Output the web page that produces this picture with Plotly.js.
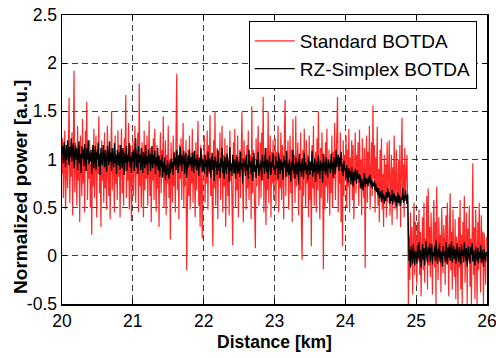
<!DOCTYPE html>
<html>
<head>
<meta charset="utf-8">
<script src="https://cdn.plot.ly/plotly-3.0.1.min.js"></script>
<style>
html,body{margin:0;padding:0;background:#fff;}
#chart{width:496px;height:358px;}
</style>
</head>
<body>
<div id="chart"></div>
<script>
// Distance sampling (km)
var distStart = 20;
var distStep = 0.01;

// Standard BOTDA (normalized power, a.u.), 20.00 .. 26.00 km
var standardBOTDA = [
0.85,1.22,0.60,1.05,1.30,0.48,0.95,1.15,0.70,1.38,1.64,0.55,1.10,0.82,1.28,0.42,1.02,1.92,0.66,1.18,
0.90,0.52,1.35,0.78,1.08,0.35,1.25,0.98,0.62,1.42,0.75,1.12,0.45,1.30,0.88,1.60,0.58,1.05,0.80,1.20,
0.50,0.95,0.22,1.15,0.72,1.32,0.60,1.00,1.25,0.40,1.10,0.85,1.45,0.65,0.98,0.30,1.20,0.78,1.05,0.55,
1.28,0.70,1.08,0.48,1.35,0.92,0.62,1.18,0.38,1.02,1.50,0.68,1.12,0.85,0.45,1.25,0.75,1.00,0.58,1.30,
0.82,1.15,0.40,0.98,1.32,0.65,1.08,0.52,1.22,0.88,1.67,0.60,1.05,0.78,1.38,0.48,0.95,1.15,0.36,1.02,
1.20,0.62,0.98,1.35,0.55,1.10,0.85,1.28,0.45,1.79,0.72,1.05,0.50,1.18,0.92,0.40,1.30,0.68,1.08,0.80,
1.25,0.52,0.95,1.40,0.62,1.12,0.35,1.02,0.78,1.22,0.58,1.32,0.88,0.46,1.15,0.70,1.05,0.30,0.98,1.28,
0.65,1.10,0.82,1.45,0.50,0.95,1.20,0.42,1.05,0.75,1.35,0.60,1.00,0.17,1.18,0.85,0.55,1.25,0.72,1.08,
0.45,1.30,1.89,0.68,1.02,0.38,1.15,0.80,1.22,0.58,0.95,1.38,0.50,1.05,0.72,1.20,-0.15,0.88,1.10,0.62,
1.25,0.48,0.98,0.75,1.32,0.55,1.08,0.85,0.40,1.18,0.68,1.02,1.40,0.52,0.92,0.30,1.15,0.72,0.18,1.05,
0.92,1.25,0.55,1.05,0.75,1.30,0.48,1.15,0.85,1.46,0.62,1.02,0.40,0.10,1.20,0.70,1.50,0.52,0.95,1.12,
0.38,1.08,0.80,1.28,0.58,0.98,1.35,0.45,1.05,0.72,1.22,0.30,0.90,1.15,0.62,1.02,0.42,1.30,0.78,0.95,
0.55,0.11,1.18,0.85,1.32,0.50,1.05,0.68,1.25,0.40,0.98,1.10,0.60,1.38,1.49,0.75,0.35,1.20,0.88,1.02,
0.48,1.15,0.70,1.30,0.58,0.92,1.05,0.38,1.55,0.65,1.10,0.82,0.45,0.08,1.22,0.72,1.00,1.35,0.52,0.95,
1.18,0.60,1.28,0.78,1.65,0.45,1.05,0.85,0.32,1.12,0.68,1.50,0.55,0.98,1.25,0.40,1.08,0.75,1.20,0.58,
0.95,1.22,0.52,1.08,0.78,1.35,0.45,1.02,0.70,1.28,0.58,1.15,0.88,0.38,1.30,1.62,0.62,1.05,0.82,1.20,
0.48,0.98,1.25,0.65,1.10,0.35,1.42,0.80,1.05,0.55,1.45,0.72,0.95,1.18,0.42,1.02,0.68,1.28,0.30,-0.04,
1.10,0.62,1.32,0.85,0.50,1.20,0.75,1.05,0.40,1.25,0.58,0.92,0.10,1.15,0.70,1.35,0.52,0.98,1.08,0.45,
1.22,0.68,1.50,0.80,0.38,1.12,0.60,1.28,0.85,-0.14,1.05,0.48,1.18,0.72,1.32,0.55,0.95,1.10,0.42,1.00,
0.65,1.25,0.50,1.08,0.80,1.38,0.58,0.92,1.15,1.65,0.45,1.02,0.75,1.28,0.35,0.98,0.10,1.20,0.62,1.05,
0.88,1.25,0.50,1.10,0.72,1.32,0.45,1.02,0.82,1.20,0.58,1.15,0.38,0.95,1.28,0.65,1.05,0.80,1.18,0.52,
1.31,0.70,1.00,0.42,1.22,0.85,0.60,1.12,-0.13,0.92,1.25,0.55,1.08,0.75,1.35,0.48,0.98,1.18,0.62,1.56,
0.80,1.15,0.45,1.02,0.68,1.34,0.52,0.90,0.35,1.10,0.62,1.22,0.48,0.85,0.30,1.05,0.58,0.95,0.40,1.18,
0.55,0.88,1.20,0.42,0.75,1.05,0.32,0.92,0.60,1.25,0.48,0.82,1.10,0.38,0.70,1.00,0.52,1.15,0.30,0.85,
1.43,0.58,0.95,0.40,1.12,0.65,0.88,1.05,0.50,-0.50,0.20,-0.25,0.45,-0.10,0.30,-0.40,0.15,0.55,-0.20,0.35,
0.10,-0.30,0.35,-0.05,0.48,-0.20,0.25,-0.42,0.05,0.40,-0.15,0.55,-0.28,0.18,0.00,0.62,-0.35,0.70,-0.10,0.30,
-0.22,0.45,0.05,-0.40,0.28,0.58,-0.12,0.35,-0.50,0.72,0.08,-0.25,0.40,-0.05,0.22,-0.38,0.50,0.02,-0.18,0.32,
0.15,-0.30,0.42,-0.08,0.55,0.05,-0.42,0.30,0.65,-0.15,0.25,-0.35,0.48,0.00,-0.22,0.38,-0.45,0.20,0.10,-0.50,
0.40,-0.12,0.58,-0.35,0.22,-0.50,0.35,0.05,0.62,-0.28,0.15,0.45,-0.50,0.28,-0.05,0.52,-0.32,0.18,-0.50,0.40,
0.96,-0.20,0.30,-0.45,0.48,0.05,-0.50,0.35,-0.15,0.55,0.10,-0.38,0.42,-0.08,0.25,-0.50,0.24,0.02,-0.30,0.15,
0.20
];

// RZ-Simplex BOTDA (normalized power, a.u.), 20.00 .. 26.00 km
var simplexBOTDA = [
1.05,1.14,0.96,1.18,1.06,0.92,1.15,1.00,1.20,1.08,0.94,1.13,1.03,1.22,0.98,1.10,1.17,0.91,1.04,1.15,
1.00,1.12,0.89,1.08,1.19,0.96,1.06,0.86,1.14,1.01,1.10,0.93,1.16,1.04,0.88,1.12,1.00,1.20,0.95,1.07,
0.98,1.10,0.85,1.05,1.15,0.91,1.03,1.14,0.89,1.08,1.00,1.18,0.93,1.06,0.84,1.12,1.01,0.94,1.15,1.04,
0.92,1.10,0.99,0.87,1.14,1.03,0.94,1.19,0.98,1.07,0.88,1.12,1.01,0.92,1.17,0.96,1.05,0.85,1.10,1.00,
0.94,1.08,0.89,1.15,1.01,0.91,1.12,1.03,0.84,1.07,0.97,1.14,0.88,1.05,0.98,1.17,0.92,1.03,0.86,1.08,
0.98,1.10,0.88,1.03,1.22,0.92,1.06,0.85,1.14,0.97,1.05,0.89,1.12,0.98,0.86,1.08,1.00,0.91,1.15,0.95,
1.03,0.84,1.10,0.97,1.06,0.88,1.00,1.14,0.91,1.05,0.95,1.09,0.85,1.02,0.93,1.12,0.89,1.04,0.82,1.00,
0.92,1.05,0.81,0.97,0.87,1.02,0.79,0.94,0.84,0.99,0.89,0.80,0.96,0.86,1.01,0.90,0.98,0.84,1.07,0.94,
1.02,0.89,1.10,0.97,0.86,1.05,0.93,1.13,0.99,0.88,1.04,0.95,1.09,0.85,0.97,1.07,0.81,0.99,1.04,0.92,
1.10,0.95,1.02,0.88,1.07,0.97,0.86,1.09,0.93,1.00,0.89,1.05,0.96,0.83,1.02,0.92,1.12,0.97,0.87,1.00,
0.95,0.85,1.05,0.92,1.00,0.82,1.08,0.94,0.87,1.01,0.81,0.96,1.07,0.89,0.99,0.78,1.03,0.92,0.98,0.84,
1.10,0.89,0.96,0.81,1.01,0.92,1.12,0.86,0.98,0.80,1.03,0.94,0.85,1.06,0.92,0.99,0.77,1.13,0.88,0.96,
0.83,1.05,0.93,0.86,1.00,0.80,0.95,1.03,0.85,0.93,0.98,0.82,1.08,0.90,0.96,0.75,1.01,0.93,0.99,0.83,
1.05,0.89,0.95,0.80,1.10,0.92,0.98,0.85,1.02,0.78,0.96,1.07,0.87,0.94,0.81,1.00,0.91,1.08,0.83,0.95,
0.89,0.99,0.79,1.05,0.92,0.98,0.85,1.12,0.94,0.87,1.00,0.80,0.95,1.04,0.91,0.84,0.98,0.92,1.07,0.89,
0.94,0.84,1.03,0.91,0.98,0.80,1.07,0.93,0.85,1.00,0.89,0.97,0.79,1.04,0.92,0.99,0.82,1.09,0.87,0.96,
0.84,1.00,0.91,0.77,0.98,0.89,1.10,0.85,0.95,0.80,1.02,0.93,0.84,0.98,0.74,1.06,0.88,0.96,0.82,1.01,
0.91,0.80,1.07,0.89,0.97,0.85,0.94,0.79,1.02,0.93,0.84,0.98,0.89,1.09,0.82,0.96,0.87,1.01,0.77,0.93,
0.98,0.85,1.04,0.91,0.80,0.99,0.89,0.96,0.76,1.06,0.88,0.97,0.84,1.02,0.93,0.81,1.00,0.91,0.96,0.86,
1.06,0.90,0.97,0.81,1.02,0.94,0.85,1.10,0.92,0.99,1.05,0.88,1.02,0.93,1.08,0.87,0.95,0.83,0.99,0.90,
0.90,0.80,0.94,0.84,0.76,0.91,0.82,0.88,0.74,0.92,0.81,0.72,0.87,0.78,0.90,0.83,0.75,0.89,0.80,0.85,
0.76,0.84,0.70,0.80,0.74,0.68,0.79,0.86,0.72,0.81,0.75,0.80,0.72,0.82,0.76,0.84,0.73,0.79,0.70,0.76,
0.72,0.78,0.68,0.75,0.66,0.71,0.63,0.70,0.60,0.67,0.62,0.56,0.68,0.59,0.64,0.54,0.62,0.57,0.66,0.60,
0.70,0.61,0.66,0.54,0.63,0.57,0.68,0.53,0.61,0.65,0.56,0.62,0.51,0.60,0.66,0.55,0.63,0.57,0.52,0.61,
0.58,0.70,0.55,0.63,0.57,0.68,0.60,0.54,0.64,0.15,-0.05,0.06,-0.12,0.10,-0.02,-0.08,0.12,0.02,-0.10,0.05,
0.03,-0.08,0.11,-0.02,0.14,-0.06,0.06,-0.12,0.05,0.12,-0.04,0.08,-0.10,0.03,0.15,-0.01,-0.07,0.09,0.01,0.13,
-0.06,0.06,0.12,-0.09,0.04,0.00,0.10,-0.05,0.16,0.02,-0.08,0.07,-0.02,0.13,-0.07,0.05,0.01,-0.11,0.10,0.00,
0.05,-0.06,0.14,0.01,-0.09,0.09,-0.02,0.12,-0.05,0.06,0.15,-0.07,0.03,0.10,-0.03,0.07,-0.08,0.04,0.13,-0.01,
-0.06,0.09,0.01,-0.09,0.12,0.00,0.06,-0.07,0.14,0.03,-0.05,0.08,-0.11,0.04,0.10,-0.02,-0.08,0.09,0.01,0.13,
-0.06,0.06,0.00,-0.10,0.10,0.02,-0.05,0.08,-0.08,0.04,-0.02,0.11,-0.07,0.06,0.01,-0.11,0.07,0.00,-0.06,0.04,
0.02
];

var xTickVals = [20,21,22,23,24,25,26];
var xTickLabels = ['20','21','22','23','24','25','26'];
var yTickVals = [-0.5,0,0.5,1,1.5,2,2.5];
var yTickLabels = ['-0.5','0','0.5','1','1.5','2','2.5'];
var seriesNames = ['Standard BOTDA','RZ-Simplex BOTDA'];
var xTitle = 'Distance [km]';
var yTitle = 'Normalized power [a.u.]';

function grid(n) {
  var d = [];
  for (var i = 0; i < n; i++) d.push(+(distStart + i * distStep).toFixed(3));
  return d;
}

var FONT = 'Liberation Sans, Arial, Helvetica, sans-serif';

var traces = [
  {x: grid(standardBOTDA.length), y: standardBOTDA, type: 'scatter', mode: 'lines', name: seriesNames[0],
   line: {color: 'rgb(255,40,40)', width: 1.2}},
  {x: grid(simplexBOTDA.length), y: simplexBOTDA, type: 'scatter', mode: 'lines', name: seriesNames[1],
   line: {color: '#000000', width: 1.3}}
];

var axisCommon = {
  showline: true, linecolor: '#000', linewidth: 1.5, mirror: 'ticks',
  ticks: 'inside', ticklen: 5, tickwidth: 1, tickcolor: '#000',
  showgrid: true, gridcolor: 'rgba(0,0,0,0.75)', gridwidth: 1, griddash: '6px,4px',
  zeroline: false, tickmode: 'array',
  tickfont: {family: FONT, size: 17.5, color: '#000'}
};

var layout = {
  width: 496, height: 358,
  margin: {l: 62, r: 9, t: 15, b: 54},
  paper_bgcolor: '#fff', plot_bgcolor: '#fff',
  showlegend: true,
  legend: {
    x: 0.976, y: 0.979, xanchor: 'right', yanchor: 'top',
    bgcolor: '#fff', bordercolor: '#000', borderwidth: 1,
    font: {family: FONT, size: 19, color: '#000'},
    itemwidth: 40, tracegroupgap: 0
  },
  xaxis: Object.assign({}, axisCommon, {
    range: [20, 26], tickvals: xTickVals, ticktext: xTickLabels, ticklabeloverflow: 'allow',
    title: {text: xTitle, standoff: 6,
      font: {family: FONT, size: 17.5, color: '#000', weight: 'bold'}}
  }),
  yaxis: Object.assign({}, axisCommon, {
    range: [-0.5, 2.5], tickvals: yTickVals, ticktext: yTickLabels
  }),
  annotations: [{
    text: yTitle, xref: 'paper', yref: 'paper', x: -0.0965, y: 0.405,
    xanchor: 'center', yanchor: 'middle', textangle: -90, showarrow: false,
    font: {family: FONT, size: 19, color: '#000', weight: 'bold'}
  }]
};

Plotly.newPlot('chart', traces, layout, {staticPlot: true, displayModeBar: false});
</script>
</body>
</html>
